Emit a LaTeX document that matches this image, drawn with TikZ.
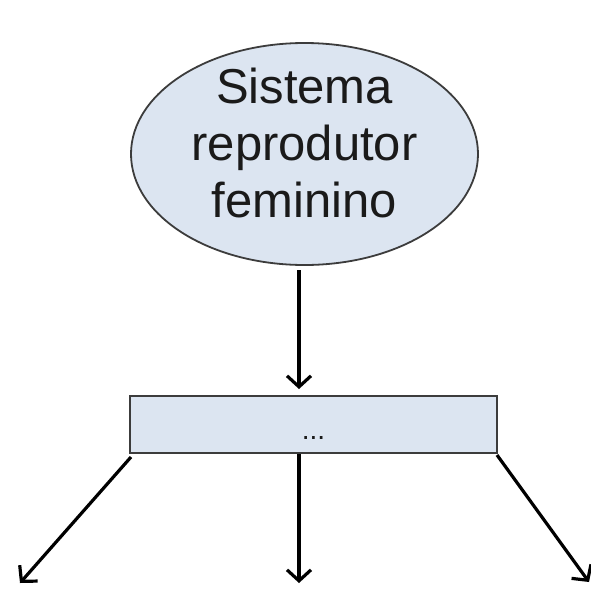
\documentclass[tikz,border=0pt]{standalone}
\usepackage{fontspec}
\setmainfont{Liberation Sans}
\usetikzlibrary{shapes.geometric,arrows.meta}
\definecolor{boxfill}{HTML}{DCE5F1}
\definecolor{boxline}{HTML}{3C3C3C}
\definecolor{txt}{HTML}{1A1A1A}
\tikzset{
  oval/.style={ellipse, draw=boxline, line width=1.8pt, fill=boxfill, inner sep=0pt,
    minimum width=347pt, minimum height=222pt},
  ovaltext/.style={align=center, inner sep=0pt, text=txt,
    font=\fontsize{49}{57}\selectfont},
  bar/.style={rectangle, draw=boxline, line width=1.8pt, fill=boxfill, inner sep=0pt,
    minimum width=367pt, minimum height=57pt},
  dots/.style={inner sep=0pt, anchor=base, text=txt, font=\fontsize{28}{30}\selectfont},
  conn/.style={line width=3.2pt, -{Straight Barb[length=11pt,width=24pt,line width=3.2pt]}}
}
\begin{document}
\begin{tikzpicture}[x=1pt,y=-1pt]
\useasboundingbox (0,0) rectangle (591,592);
\node[oval] (top) at (304.5,154) {};
\node[ovaltext] (toptext) at (304.5,143) {Sistema\\reprodutor\\feminino};
\node[bar] (mid) at (313.5,424.5) {};
\node[dots] (midtext) at (313.5,439) {...};
\coordinate (a1) at (299,270);
\coordinate (a2) at (299,389);
\coordinate (l1) at (131,457);
\coordinate (l2) at (20,583);
\coordinate (m1) at (299,454);
\coordinate (m2) at (299,583);
\coordinate (r1) at (497,455);
\coordinate (r2) at (589,582);
\draw[conn] (a1) -- (a2);
\draw[conn] (l1) -- (l2);
\draw[conn] (m1) -- (m2);
\draw[conn] (r1) -- (r2);
\end{tikzpicture}
\end{document}
